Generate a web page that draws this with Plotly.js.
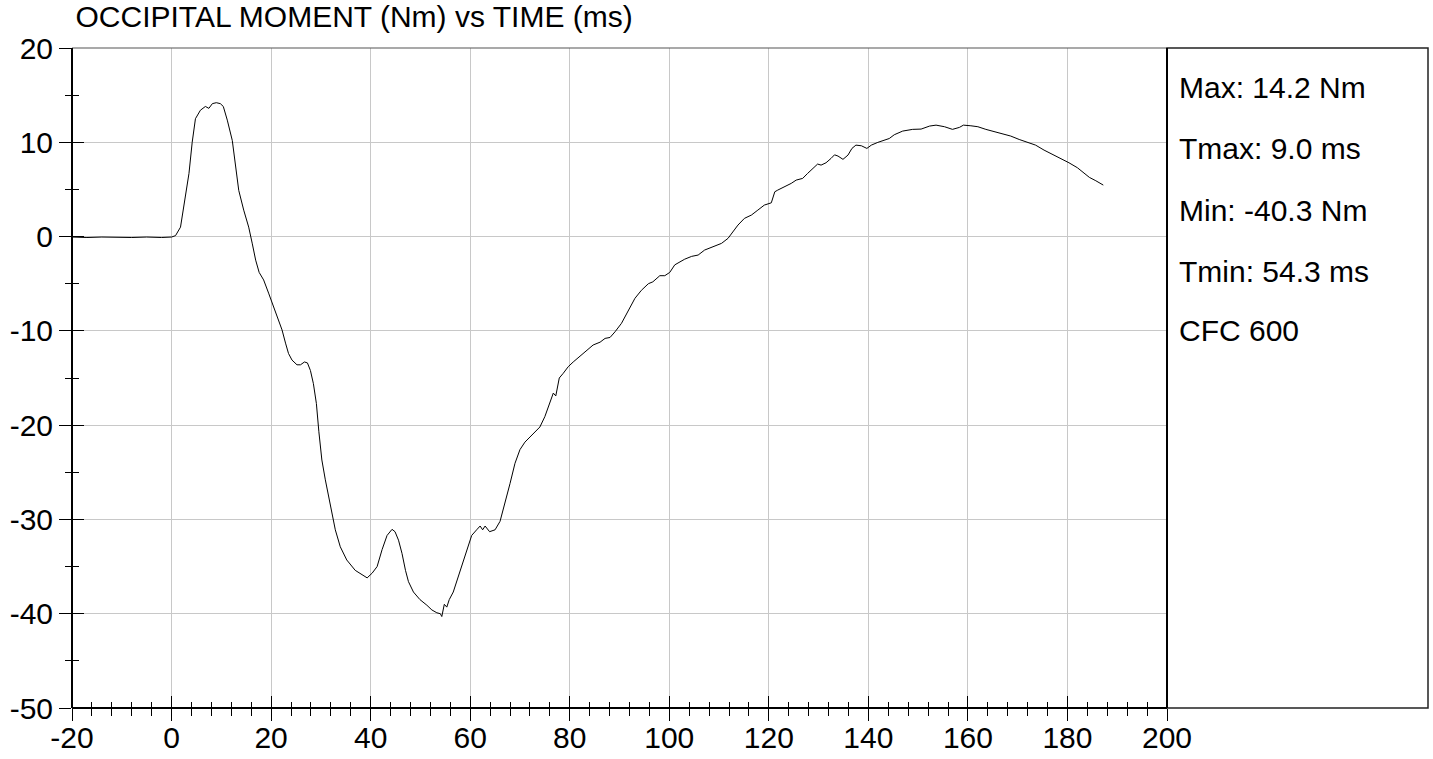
<!DOCTYPE html>
<html>
<head>
<meta charset="utf-8">
<script src="https://cdn.plot.ly/plotly-3.0.1.min.js"></script>
<style>
html,body{margin:0;padding:0;background:#fff;}
#chart{width:1433px;height:759px;}
</style>
</head>
<body>
<div id="chart"></div>
<script>
// Time (ms)
var timeMs = [-20,-17,-14,-11,-8,-5,-2,0,0.8,1.8,2.8,3.5,4.15,4.8,5.8,6.8,7.5,8.2,9.0,9.8,10.4,11.2,12.2,12.8,13.5,14.5,15.5,16.2,16.9,17.6,18.5,19.5,20.5,21.5,22.2,22.9,23.5,24.2,25.2,25.9,26.7,27.3,27.9,28.5,29.1,29.6,30.2,30.9,31.6,32.2,32.9,33.9,35.2,36.9,38.3,39.3,40.3,41.3,42.3,43.3,44.3,44.9,45.6,46.3,47.0,47.6,48.6,49.9,51.3,52.3,53.3,54.0,54.3,54.8,55.3,55.8,56.6,57.6,58.7,59.6,60.3,61.3,62.0,62.5,63.0,63.9,65.0,66.0,67.0,68.0,69.0,70.0,71.0,72.4,74.0,75.0,76.0,76.7,77.2,77.9,78.7,79.7,80.7,82.0,83.4,84.7,86.1,87.1,88.1,89.1,90.4,91.7,93.1,94.4,95.8,96.7,98.1,99.1,100.1,101.1,102.1,103.1,104.5,105.8,107.1,108.8,110.5,111.8,112.8,113.8,115.1,116.5,117.8,119.1,120.5,121.2,121.8,123.2,124.5,125.5,126.8,127.8,128.8,129.8,130.5,131.5,132.5,133.2,133.9,134.9,135.9,136.7,137.5,138.6,139.7,140.6,141.9,143.2,144.2,145.2,146.9,148.9,150.6,152.3,153.6,155.3,156.9,158.3,159.1,160.6,162.0,163.6,165.3,167.0,168.6,170.3,172.0,173.6,175.3,177.0,178.7,180.3,182.0,183.4,184.4,185.7,187.2];
// Occipital moment (Nm)
var momentNm = [-0.05,-0.1,-0.05,-0.1,-0.1,-0.05,-0.1,-0.05,0.1,1.0,4.2,6.7,10.0,12.5,13.4,13.8,13.6,14.1,14.2,14.1,13.8,12.35,10.2,7.8,4.9,2.8,1.0,-0.7,-2.5,-3.8,-4.6,-6.0,-7.4,-8.85,-9.9,-11.3,-12.4,-13.1,-13.6,-13.6,-13.3,-13.4,-14.2,-15.6,-17.7,-20.7,-23.7,-25.8,-27.6,-29.5,-31.1,-32.9,-34.3,-35.4,-35.9,-36.2,-35.7,-35.0,-33.2,-31.7,-31.05,-31.3,-32.2,-33.6,-35.4,-36.6,-37.7,-38.5,-39.1,-39.6,-39.9,-40.0,-40.3,-39.0,-39.3,-38.5,-37.7,-36.1,-34.3,-32.9,-31.7,-31.1,-30.7,-31.1,-30.7,-31.3,-31.1,-30.2,-28.3,-26.2,-24.05,-22.6,-21.8,-21.05,-20.2,-19.1,-17.7,-16.6,-16.9,-15.0,-14.5,-13.8,-13.3,-12.7,-12.0,-11.5,-11.2,-10.8,-10.7,-10.1,-9.2,-8.0,-6.55,-5.7,-5.0,-4.8,-4.15,-4.15,-3.8,-3.0,-2.67,-2.4,-2.1,-1.96,-1.43,-1.08,-0.72,-0.19,0.51,1.22,1.93,2.28,2.81,3.34,3.58,4.75,4.93,5.28,5.64,5.99,6.17,6.7,7.23,7.69,7.58,7.83,8.29,8.67,8.54,8.19,8.64,9.35,9.7,9.63,9.35,9.7,9.99,10.23,10.4,10.8,11.19,11.37,11.4,11.72,11.82,11.65,11.37,11.58,11.82,11.75,11.65,11.37,11.11,10.87,10.66,10.3,9.99,9.7,9.17,8.72,8.19,7.83,7.3,6.7,6.28,5.92,5.46];

var xTickVals = [-20, 0, 20, 40, 60, 80, 100, 120, 140, 160, 180, 200];
var xTickText = ["-20", "0", "20", "40", "60", "80", "100", "120", "140", "160", "180", "200"];
var yTickVals = [-50, -40, -30, -20, -10, 0, 10, 20];
var yTickText = ["-50", "-40", "-30", "-20", "-10", "0", "10", "20"];

var chartTitle = "OCCIPITAL MOMENT (Nm) vs TIME (ms)";
var statLines = ["Max: 14.2 Nm", "Tmax: 9.0 ms", "Min: -40.3 Nm", "Tmin: 54.3 ms", "CFC 600"];
var xRange = [-20, 200];
var yRange = [-50, 20];

var FONT = "Liberation Sans, Arial, sans-serif";
var FS = 30;

var trace = {
  x: timeMs, y: momentNm, type: "scatter", mode: "lines",
  line: {color: "#000", width: 1}, xaxis: "x", yaxis: "y",
  hoverinfo: "skip", showlegend: false
};

var plotW = 1095, plotL = 72;
var statX = 1 + (1177 - 1167) / plotW;
var statY = [87.5, 148.5, 210, 271, 331];
var plotT = 48, plotH = 660;

var annotations = statLines.map(function (s, i) {
  return {
    text: s, xref: "paper", yref: "paper", x: statX, xanchor: "left",
    y: 1 - (statY[i] - plotT) / plotH, yanchor: "middle", showarrow: false,
    font: {family: FONT, size: FS, color: "#000"}, align: "left"
  };
});

var layout = {
  width: 1433, height: 759,
  margin: {l: plotL, r: 1433 - plotL - plotW, t: plotT, b: 759 - plotT - plotH, pad: 0},
  paper_bgcolor: "#fff", plot_bgcolor: "#fff",
  showlegend: false,
  title: {
    text: chartTitle, font: {family: FONT, size: FS, color: "#000"},
    xref: "container", yref: "container", x: 75.5 / 1433, xanchor: "left",
    y: 1 - 6 / 759, yanchor: "top"
  },
  xaxis: {
    range: xRange, tickmode: "array", tickvals: xTickVals, ticktext: xTickText,
    showline: false, zeroline: false, ticks: "outside", tickcolor: "#000",
    tickwidth: 1, ticklen: 12, ticklabelstandoff: -9,
    tickfont: {family: FONT, size: FS, color: "#000"},
    showgrid: true, gridcolor: "#c8c8c8", gridwidth: 1,
    minor: {dtick: 4, tick0: -20, ticks: "outside", ticklen: 6.5, tickcolor: "#000", tickwidth: 1, showgrid: false},
    anchor: "y"
  },
  xaxis2: {
    range: xRange, dtick: 20, tick0: 0, overlaying: "x", anchor: "y", side: "bottom",
    showgrid: false, zeroline: false, showline: false, showticklabels: false,
    ticks: "inside", ticklen: 12, tickcolor: "#000", tickwidth: 1,
    minor: {dtick: 4, tick0: -20, ticks: "inside", ticklen: 6.5, tickcolor: "#000", tickwidth: 1, showgrid: false}
  },
  yaxis: {
    range: yRange, tickmode: "array", tickvals: yTickVals, ticktext: yTickText,
    showline: false, zeroline: false, ticks: "outside", tickcolor: "#000",
    tickwidth: 1, ticklen: 12, ticklabelstandoff: 0,
    tickfont: {family: FONT, size: FS, color: "#000"},
    showgrid: true, gridcolor: "#c8c8c8", gridwidth: 1,
    minor: {dtick: 5, tick0: 0, ticks: "outside", ticklen: 6.5, tickcolor: "#000", tickwidth: 1, showgrid: false},
    anchor: "x"
  },
  yaxis2: {
    range: yRange, dtick: 10, tick0: 0, overlaying: "y", anchor: "x", side: "left",
    showgrid: false, zeroline: false, showline: false, showticklabels: false,
    ticks: "inside", ticklen: 12, tickcolor: "#000", tickwidth: 1,
    minor: {dtick: 5, tick0: 0, ticks: "inside", ticklen: 6.5, tickcolor: "#000", tickwidth: 1, showgrid: false}
  },
  shapes: [
    {type: "rect", xref: "paper", yref: "paper", x0: 1, x1: 1 + (1428 - 1167) / plotW, y0: 0, y1: 1,
     line: {color: "#222", width: 1.5}, layer: "above"},
    {type: "line", xref: "paper", yref: "paper", x0: 0, x1: 1, y0: 1, y1: 1,
     line: {color: "#555", width: 1.2}, layer: "above"},
    {type: "line", xref: "paper", yref: "paper", x0: 0, x1: 0, y0: 0, y1: 1,
     line: {color: "#000", width: 2}, layer: "above"},
    {type: "line", xref: "paper", yref: "paper", x0: 1, x1: 1, y0: 0, y1: 1,
     line: {color: "#000", width: 2}, layer: "above"},
    {type: "line", xref: "paper", yref: "paper", x0: 0, x1: 1, y0: 0, y1: 0,
     line: {color: "#000", width: 2}, layer: "above"}
  ],
  annotations: annotations
};

var ghostX = {x: xRange, y: yRange, xaxis: "x2", yaxis: "y", mode: "none", type: "scatter", hoverinfo: "skip", showlegend: false};
var ghostY = {x: xRange, y: yRange, xaxis: "x", yaxis: "y2", mode: "none", type: "scatter", hoverinfo: "skip", showlegend: false};

Plotly.newPlot("chart", [trace, ghostX, ghostY], layout, {staticPlot: true, displayModeBar: false});
</script>
</body>
</html>
